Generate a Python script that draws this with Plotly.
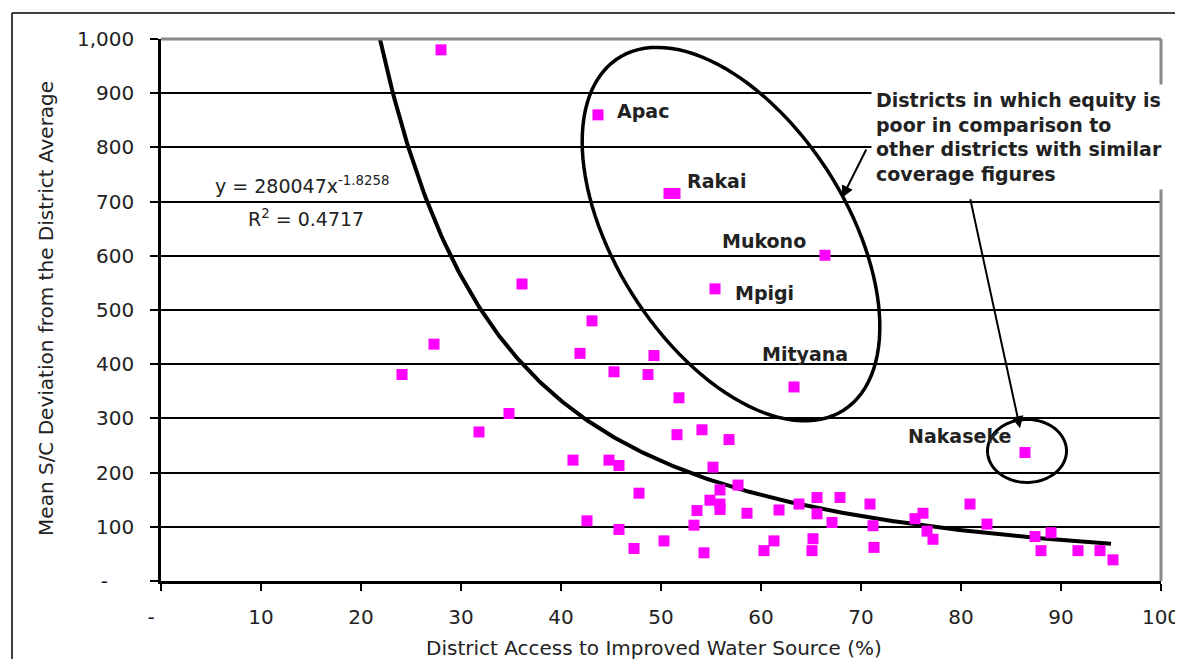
import numpy as np
import plotly.graph_objects as go

# ---------------- data ----------------
access = [28.0, 43.7, 50.8, 51.4, 66.4, 55.4, 36.1, 43.1, 63.3, 86.4,
          27.3, 41.9, 24.1, 45.3, 34.8, 31.8, 49.3, 48.7, 51.8, 51.6,
          54.1, 56.8, 41.2, 44.8, 45.8, 55.2, 47.8, 57.7, 55.9, 54.9,
          55.9, 55.9, 53.6, 58.6, 61.8, 63.8, 65.6, 65.6, 67.9, 67.1,
          42.6, 53.3, 45.8, 50.3, 47.3, 54.3, 61.3, 60.3, 65.2, 65.1,
          70.9, 71.2, 71.3, 75.4, 76.2, 76.6, 77.2, 80.9, 82.6, 87.4,
          88.0, 89.0, 91.7, 93.9, 95.2]
deviation = [980, 860, 715, 715, 601, 539, 548, 480, 358, 237,
             437, 420, 381, 386, 309, 275, 416, 381, 338, 270,
             279, 261, 223, 223, 213, 210, 162, 177, 168, 149,
             142, 132, 130, 125, 131, 142, 154, 124, 154, 108,
             111, 103, 95, 74, 60, 52, 74, 56, 78, 56,
             142, 102, 62, 115, 125, 92, 77, 142, 105, 82,
             56, 89, 56, 56, 39]

district_names = ["Apac", "Rakai", "Mukono", "Mpigi", "Mityana", "Nakaseke"]
name_x = [45.4, 52.4, 55.9, 57.2, 59.9, 74.5]
name_y = [867, 738, 627, 531, 419, 267]

x_tickvals = [0, 10, 20, 30, 40, 50, 60, 70, 80, 90, 100]
x_ticktext = ["-\u2003", "10", "20", "30", "40", "50", "60", "70", "80", "90", "100"]
y_tickvals = [0, 100, 200, 300, 400, 500, 600, 700, 800, 900, 1000]
y_ticktext = ["-\u2003 ", "100", "200", "300", "400", "500", "600", "700", "800", "900", "1,000"]

# power trendline reported on the chart
TREND_A = 280047
TREND_B = -1.8258
TREND_X_END = 95.0

FONT = "DejaVu Sans"

# ---------------- figure ----------------
fig = go.Figure()

x_start = (1000.0 / TREND_A) ** (1.0 / TREND_B)
tx = np.linspace(x_start, TREND_X_END, 300)
ty = TREND_A * tx ** TREND_B
fig.add_trace(go.Scatter(x=tx, y=ty, mode="lines",
                         line=dict(color="black", width=4),
                         hoverinfo="skip", showlegend=False))

fig.add_trace(go.Scatter(x=access, y=deviation, mode="markers",
                         marker=dict(symbol="square", size=11, color="#FF00FF",
                                     line=dict(width=0)),
                         showlegend=False))

# plot geometry (pixels per data unit) used for the hand-drawn ellipses
PX_PER_X = 10.0
PX_PER_Y = 0.542


def ellipse_path(cx, cy, a_px, b_px, angle_deg, n=120):
    t = np.linspace(0, 2 * np.pi, n)
    th = np.radians(angle_deg)
    dx = a_px * np.cos(th) * np.cos(t) - b_px * np.sin(th) * np.sin(t)
    dy = a_px * np.sin(th) * np.cos(t) + b_px * np.cos(th) * np.sin(t)
    xs = cx + dx / PX_PER_X
    ys = cy - dy / PX_PER_Y
    p = "M %.4f,%.4f " % (xs[0], ys[0])
    p += " ".join("L %.4f,%.4f" % (x, y) for x, y in zip(xs[1:], ys[1:]))
    return p + " Z"


shapes = [
    dict(type="path", xref="x", yref="y", path=ellipse_path(57.0, 640, 209, 115.5, 57.4),
         line=dict(color="black", width=3.5)),
    dict(type="path", xref="x", yref="y", path=ellipse_path(86.6, 240, 39.5, 31.5, 0),
         line=dict(color="black", width=3)),
    # gray plot-area border (top & right)
    dict(type="line", xref="paper", yref="paper", x0=0, x1=1, y0=1, y1=1,
         line=dict(color="#8a8a8a", width=3)),
    dict(type="line", xref="paper", yref="paper", x0=1, x1=1, y0=0, y1=1,
         line=dict(color="#8a8a8a", width=3)),
    # outer frame (top & left)
    dict(type="line", xref="paper", yref="paper", x0=-0.149, x1=1.03, y0=1.048, y1=1.048,
         line=dict(color="black", width=1.5)),
    dict(type="line", xref="paper", yref="paper", x0=-0.149, x1=-0.149, y0=-0.16, y1=1.048,
         line=dict(color="black", width=1.5)),
]

annotations = []
for nm, lx, ly in zip(district_names, name_x, name_y):
    annotations.append(dict(x=lx, y=ly, xref="x", yref="y", text=nm, showarrow=False,
                            xanchor="left", yanchor="middle",
                            font=dict(family=FONT, size=19, color="#222222", weight="bold")))

annotations += [
    dict(x=14.1, y=731, xref="x", yref="y", showarrow=False,
         xanchor="center", yanchor="middle",
         text="y = 280047x<sup>-1.8258</sup>",
         font=dict(family=FONT, size=19, color="#222222")),
    dict(x=14.5, y=670, xref="x", yref="y", showarrow=False,
         xanchor="center", yanchor="middle",
         text="R<sup>2</sup> = 0.4717",
         font=dict(family=FONT, size=19, color="#222222")),
    # arrows
    dict(x=68.1, y=707, ax=70.6, ay=799, xref="x", yref="y", axref="x", ayref="y",
         text="", showarrow=True, arrowhead=2, arrowsize=1.2, arrowwidth=2, arrowcolor="black"),
    dict(x=85.9, y=282, ax=80.9, ay=707, xref="x", yref="y", axref="x", ayref="y",
         text="", showarrow=True, arrowhead=2, arrowsize=1.2, arrowwidth=2, arrowcolor="black"),
    # callout text
    dict(x=71.0, y=917, xref="x", yref="y", xanchor="left", yanchor="top", showarrow=False,
         align="left", bgcolor="white", borderpad=4,
         text="Districts in which equity is<br>poor in comparison to<br>other districts with similar<br>coverage figures",
         font=dict(family=FONT, size=19, color="#222222", weight="bold")),
    # axis titles
    dict(x=-0.115, y=0.502, xref="paper", yref="paper", showarrow=False, textangle=-90,
         xanchor="center", yanchor="middle",
         text="Mean S/C Deviation from the District Average",
         font=dict(family=FONT, size=20, color="#222222")),
    dict(x=0.493, y=-0.1236, xref="paper", yref="paper", showarrow=False,
         xanchor="center", yanchor="middle",
         text="District Access to Improved Water Source (%)",
         font=dict(family=FONT, size=20, color="#222222")),
]

# the page adds an 8px body margin at the top-left
fig.update_layout(
    width=1175, height=651, autosize=False,
    margin=dict(l=153, r=22, t=31, b=78),
    paper_bgcolor="white", plot_bgcolor="white",
    shapes=shapes, annotations=annotations,
    xaxis=dict(range=[0, 100], tickvals=x_tickvals, ticktext=x_ticktext, automargin=False,
               showgrid=False, zeroline=False, showline=True, linecolor="black", linewidth=2.5,
               ticks="outside", ticklen=7, tickwidth=2, tickcolor="black",
               ticklabelstandoff=9, ticklabeloverflow="allow",
               tickfont=dict(family=FONT, size=20, color="#222222")),
    yaxis=dict(range=[0, 1000], tickvals=y_tickvals, ticktext=y_ticktext, automargin=False,
               showgrid=True, gridcolor="black", gridwidth=1.5,
               zeroline=False, showline=True, linecolor="black", linewidth=2.5,
               ticks="outside", ticklen=8, tickwidth=2, tickcolor="black",
               ticklabelstandoff=12,
               tickfont=dict(family=FONT, size=20, color="#222222")),
)

fig.write_html("out.html")
